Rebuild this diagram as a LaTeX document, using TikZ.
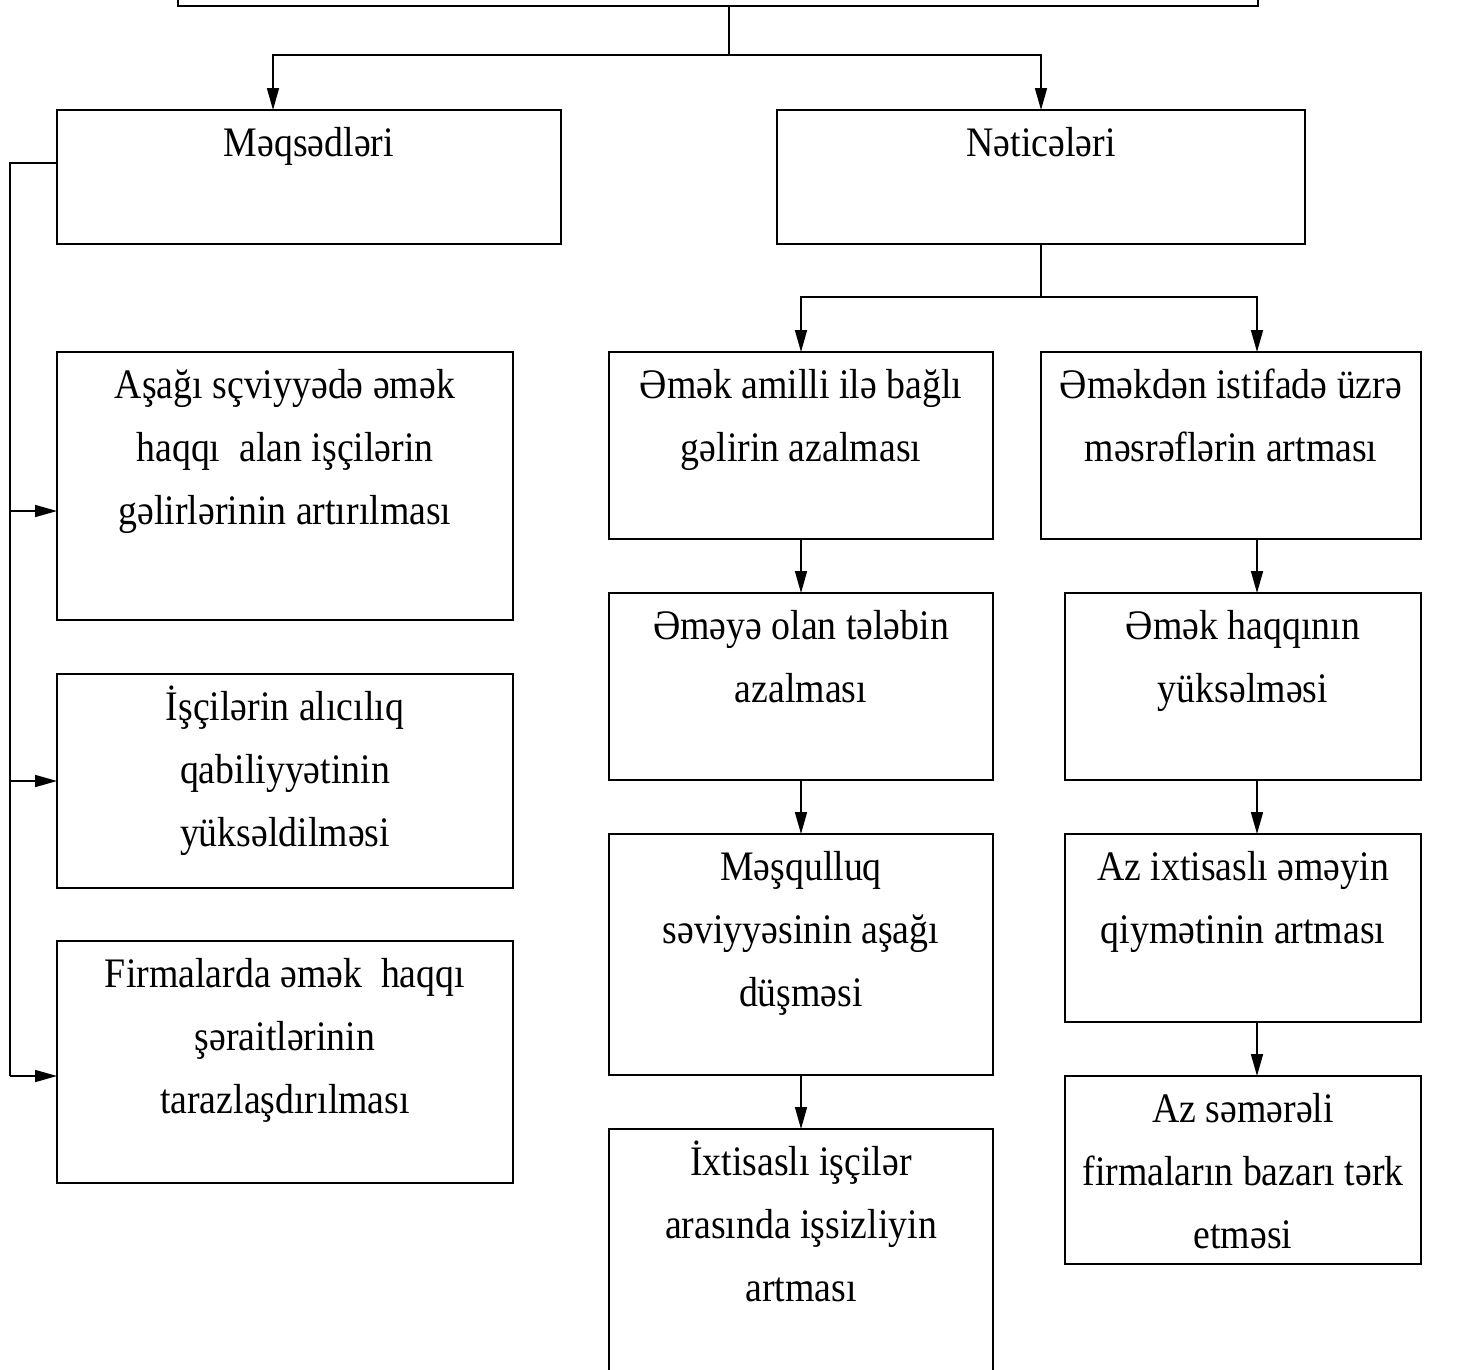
\documentclass[tikz,border=0pt]{standalone}
\usepackage{fontspec}
\setmainfont{Liberation Serif}[FakeStretch=0.9]
\usetikzlibrary{arrows.meta}
\newcommand{\bxt}[3]{\parbox[c][#2][t]{#1}{\centering\rule{0pt}{46pt}#3\par}}
\tikzset{
  box/.style={draw, line width=1.8pt, inner sep=0pt, outer sep=0pt, font=\fontsize{42}{63}\selectfont},
  conn/.style={line width=1.6pt},
  arr/.style={line width=1.6pt, -{Triangle[length=22pt,width=12pt]}}
}
\begin{document}
\begin{tikzpicture}[x=1pt,y=-1pt]
\useasboundingbox (0,0) rectangle (1461,1369);
\node[box, minimum width=1080pt, minimum height=106pt] (top) at (718,-47) {};
\node[box] (mq) at (309,177) {\bxt{504pt}{134pt}{Məqsədləri}};
\node[box] (nt) at (1041,177) {\bxt{528pt}{134pt}{Nəticələri}};
\node[box] (l1) at (285,486) {\bxt{456pt}{268pt}{Aşağı sçviyyədə əmək\\ haqqı~ alan işçilərin\\ gəlirlərinin artırılması}};
\node[box] (l2) at (285,781) {\bxt{456pt}{214pt}{İşçilərin alıcılıq\\ qabiliyyətinin\\ yüksəldilməsi}};
\node[box] (l3) at (285,1062) {\bxt{456pt}{242pt}{Firmalarda əmək~ haqqı\\ şəraitlərinin\\ tarazlaşdırılması}};
\node[box] (m1) at (801,445.5) {\bxt{384pt}{187pt}{Əmək amilli ilə bağlı\\ gəlirin azalması}};
\node[box] (m2) at (801,686.5) {\bxt{384pt}{187pt}{Əməyə olan tələbin\\ azalması}};
\node[box] (m3) at (801,954.5) {\bxt{384pt}{241pt}{Məşqulluq\\ səviyyəsinin aşağı\\ düşməsi}};
\node[box] (m4) at (801,1269) {\bxt{384pt}{280pt}{İxtisaslı işçilər\\ arasında işsizliyin\\ artması}};
\node[box] (r1) at (1231,445.5) {\bxt{380pt}{187pt}{Əməkdən istifadə üzrə\\ məsrəflərin artması}};
\node[box] (r2) at (1243,686.5) {\bxt{356pt}{187pt}{Əmək haqqının\\ yüksəlməsi}};
\node[box] (r3) at (1243,928) {\bxt{356pt}{188pt}{Az ixtisaslı əməyin\\ qiymətinin artması}};
\node[box] (r4) at (1243,1170) {\bxt{356pt}{188pt}{Az səmərəli\\ firmaların bazarı tərk\\ etməsi}};
% top split
\coordinate (t0) at ([xshift=11pt]top.south);
\coordinate (ty) at (0,55);
\draw[conn] (t0) -- (t0 |- ty);
\draw[arr] (t0 |- ty) -| ([xshift=-36pt]mq.north);
\draw[arr] (t0 |- ty) -| (nt.north);
% results split
\coordinate (ry) at (0,297);
\draw[conn] (nt.south) -- (nt.south |- ry);
\draw[arr] (nt.south |- ry) -| (m1.north);
\draw[arr] (nt.south |- ry) -| ([xshift=26pt]r1.north);
% middle chain
\draw[arr] (m1.south) -- (m2.north);
\draw[arr] (m2.south) -- (m3.north);
\draw[arr] (m3.south) -- (m4.north);
% right chain
\draw[arr] ([xshift=26pt]r1.south) -- ([xshift=14pt]r2.north);
\draw[arr] ([xshift=14pt]r2.south) -- ([xshift=14pt]r3.north);
\draw[arr] ([xshift=14pt]r3.south) -- ([xshift=14pt]r4.north);
% goals bus
\coordinate (q0) at ([yshift=14pt]mq.west);
\coordinate (a1) at ([yshift=-25pt]l1.west);
\coordinate (a2) at (l2.west);
\coordinate (a3) at ([yshift=-14pt]l3.west);
\coordinate (bx) at (10,0);
\draw[conn] (q0) -- (bx |- q0) -- (bx |- a3);
\draw[arr] (bx |- a1) -- (a1);
\draw[arr] (bx |- a2) -- (a2);
\draw[arr] (bx |- a3) -- (a3);
\end{tikzpicture}
\end{document}
